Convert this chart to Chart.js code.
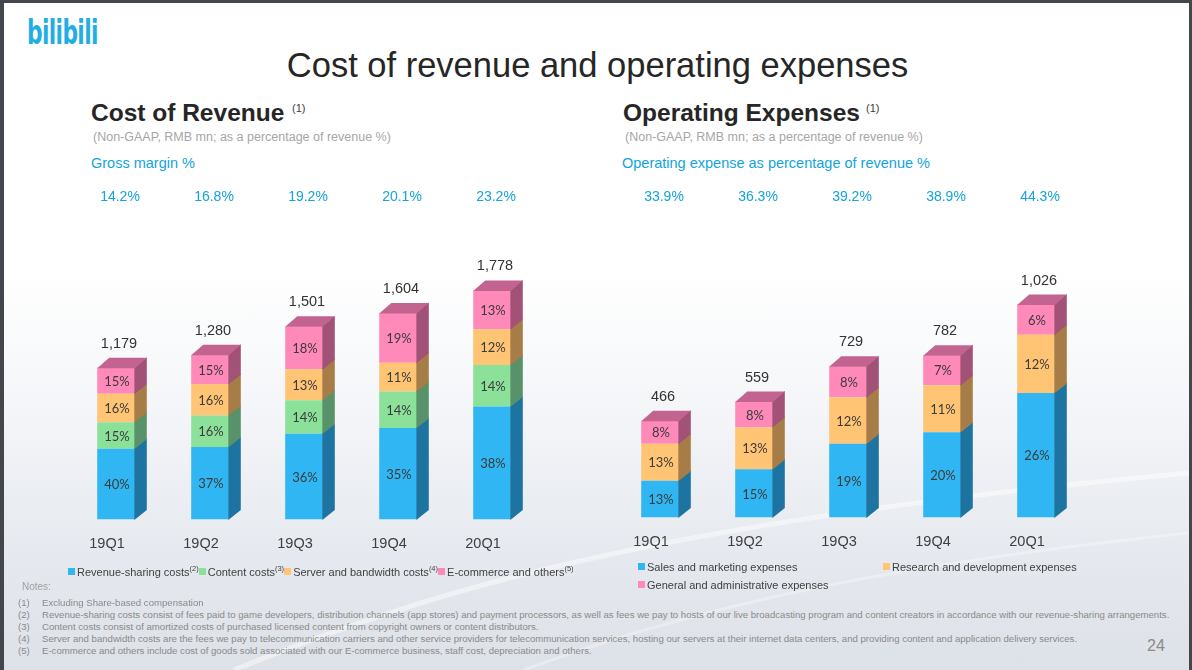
<!DOCTYPE html>
<html>
<head>
<meta charset="utf-8">
<script src="https://cdn.jsdelivr.net/npm/chart.js@4.4.1/dist/chart.umd.min.js"></script>
<style>
html, body { margin: 0; padding: 0; }
body { width: 1192px; height: 670px; background: #43464b; position: relative; overflow: hidden; font-family: "Liberation Sans", Arial, sans-serif; }
#bg { position: absolute; left: 4px; top: 3px; width: 1185px; height: 667px; overflow: hidden;
  background: linear-gradient(to bottom, #ffffff 0%, #ffffff 40%, #f3f5f8 62%, #e6e9ef 82%, #dde1e8 100%); }
#bg svg { position: absolute; left: 0; top: 0; }
.t { position: absolute; white-space: nowrap; line-height: 1; }
.box { position: absolute; }
.legend { position: absolute; font-size: 11px; color: #404040; white-space: nowrap; line-height: 1; }
.legend .sw { display: inline-block; width: 7px; height: 7px; margin-right: 2px; vertical-align: 1px; }
.legend sup { font-size: 7.5px; vertical-align: 5px; margin-right: 0; }
.notes div { position: absolute; left: 18px; font-size: 9.6px; color: #8a8a8a; white-space: nowrap; line-height: 1; }
.notes span { display: inline-block; width: 24px; }
</style>
</head>
<body>
<div id="bg">
  <svg width="1185" height="667">
    <path d="M230,667 C420,590 640,520 1185,470" stroke="#ffffff" stroke-opacity="0.45" stroke-width="5" fill="none"/>
    <path d="M520,667 C700,600 900,560 1185,530" stroke="#ffffff" stroke-opacity="0.3" stroke-width="3" fill="none"/>
  </svg>
</div>

<div class="t" style="left:27px;top:15px;font-family:'DejaVu Sans';font-weight:bold;font-size:34px;color:#23ade5;transform:scaleX(0.64);transform-origin:left;letter-spacing:-1px;">bilibili</div>
<div class="t" style="left:0;width:1195px;text-align:center;top:48px;font-size:34.5px;color:#262626;">Cost of revenue and operating expenses</div>

<div class="t" style="left:91px;top:101px;font-size:24.5px;font-weight:bold;color:#262626;">Cost of Revenue</div>
<div class="t" style="left:292px;top:103px;font-size:11px;color:#404040;">(1)</div>
<div class="t" style="left:93px;top:131px;font-size:12.5px;color:#a6a6a6;">(Non-GAAP, RMB mn; as a percentage of revenue %)</div>
<div class="t" style="left:91px;top:156px;font-size:14.5px;color:#13a3de;">Gross margin %</div>

<div class="t" style="left:623px;top:101px;font-size:24.5px;font-weight:bold;color:#262626;">Operating Expenses</div>
<div class="t" style="left:866px;top:103px;font-size:11px;color:#404040;">(1)</div>
<div class="t" style="left:625px;top:131px;font-size:12.5px;color:#a6a6a6;">(Non-GAAP, RMB mn; as a percentage of revenue %)</div>
<div class="t" style="left:622px;top:156px;font-size:14.5px;color:#13a3de;">Operating expense as percentage of revenue %</div>

<div class="box" style="left:69px;top:180px;width:470px;height:389px;"><canvas id="costChart"></canvas></div>
<div class="box" style="left:613px;top:180px;width:470px;height:387px;"><canvas id="opexChart"></canvas></div>

<div class="legend" id="costLegend" style="left:68px;top:565px;"></div>
<div class="legend" id="opexLegend1" style="left:638px;top:562px;"></div>
<div class="legend" id="opexLegend2" style="left:883px;top:562px;"></div>
<div class="legend" id="opexLegend3" style="left:638px;top:580px;"></div>

<div class="t" style="left:22px;top:582px;font-size:10px;color:#a0a0a0;">Notes:</div>
<div class="notes">
  <div style="top:598px;"><span>(1)</span>Excluding Share-based compensation</div>
  <div style="top:610px;"><span>(2)</span>Revenue-sharing costs consist of fees paid to game developers, distribution channels (app stores) and payment processors, as well as fees we pay to hosts of our live broadcasting program and content creators in accordance with our revenue-sharing arrangements.</div>
  <div style="top:622px;"><span>(3)</span>Content costs consist of amortized costs of purchased licensed content from copyright owners or content distributors.</div>
  <div style="top:634px;"><span>(4)</span>Server and bandwidth costs are the fees we pay to telecommunication carriers and other service providers for telecommunication services, hosting our servers at their internet data centers, and providing content and application delivery services.</div>
  <div style="top:646px;"><span>(5)</span>E-commerce and others include cost of goods sold associated with our E-commerce business, staff cost, depreciation and others.</div>
</div>
<div class="t" style="left:1147px;top:638px;font-size:16px;color:#8a8a8a;">24</div>

<script>
const quarters = ['19Q1', '19Q2', '19Q3', '19Q4', '20Q1'];

// Cost of revenue (RMB mn)
const revenueSharing = [550, 564, 667, 710, 877];
const contentCosts = [206, 244, 259, 284, 323];
const serverCosts = [220, 244, 241, 223, 277];
const ecommerce = [203, 228, 334, 387, 301];
const costTotals = [1179, 1280, 1501, 1604, 1778];
const revenueSharingPct = [40, 37, 36, 35, 38];
const contentPct = [15, 16, 14, 14, 14];
const serverPct = [16, 16, 13, 11, 12];
const ecommercePct = [15, 15, 18, 19, 13];
const grossMargin = ['14.2%', '16.8%', '19.2%', '20.1%', '23.2%'];

// Operating expenses (RMB mn)
const salesMarketing = [178, 233, 355, 411, 600];
const researchDev = [178, 202, 224, 226, 280];
const generalAdmin = [110, 124, 150, 145, 146];
const opexTotals = [466, 559, 729, 782, 1026];
const salesPct = [13, 15, 19, 20, 26];
const researchPct = [13, 13, 12, 11, 12];
const adminPct = [8, 8, 8, 7, 6];
const opexRatio = ['33.9%', '36.3%', '39.2%', '38.9%', '44.3%'];

const BLUE = { front: '#30b6f3', side: '#1e74a0' };
const GREEN = { front: '#8be09a', side: '#57926a' };
const ORANGE = { front: '#ffc474', side: '#a67d46' };
const PINK = { front: '#ff89b9', side: '#a35277', top: '#c2648f' };

// draws the side / top faces, the % labels, totals and the ratio row
const cubePlugin = {
    id: 'cube',
    afterDatasetsDraw(chart) {
        const ctx = chart.ctx;
        const dx = 12, dy = 10;
        const sets = chart.data.datasets;
        const last = sets.length - 1;
        const tops = [];
        ctx.save();
        sets.forEach((ds, di) => {
            const meta = chart.getDatasetMeta(di);
            meta.data.forEach((bar, i) => {
                const p = bar.getProps(['x', 'y', 'base', 'width'], true);
                const l = p.x - p.width / 2, r = p.x + p.width / 2;
                const top = Math.min(p.y, p.base), bot = Math.max(p.y, p.base);
                ctx.fillStyle = ds.side;
                ctx.beginPath();
                ctx.moveTo(r - 0.5, bot + 0.5);
                ctx.lineTo(r + dx, bot - dy + 0.5);
                ctx.lineTo(r + dx, top - dy - 0.5);
                ctx.lineTo(r - 0.5, top - 0.5);
                ctx.closePath();
                ctx.fill();
                if (di === last) {
                    ctx.fillStyle = ds.top;
                    ctx.beginPath();
                    ctx.moveTo(l, top + 0.5);
                    ctx.lineTo(l + dx, top - dy);
                    ctx.lineTo(r + dx, top - dy);
                    ctx.lineTo(r, top + 0.5);
                    ctx.closePath();
                    ctx.fill();
                    tops[i] = { x: p.x, top: top };
                }
                ctx.fillStyle = '#3b3b3b';
                ctx.font = '13px Lato';
                ctx.textAlign = 'center';
                ctx.textBaseline = 'middle';
                ctx.fillText(ds.pct[i] + '%', p.x + 1, (top + bot) / 2 + 1);
            });
        });
        const o = chart.options.plugins.cube;
        ctx.fillStyle = '#333333';
        ctx.font = '14.5px "Liberation Sans"';
        tops.forEach((t, i) => {
            ctx.fillText(o.totals[i].toLocaleString('en-US'), t.x + 3, t.top - 24);
        });
        ctx.fillStyle = '#13a3de';
        ctx.font = '14px "Liberation Sans"';
        tops.forEach((t, i) => {
            ctx.fillText(o.ratios[i], t.x + 4, 17);
        });
        ctx.restore();
    }
};

function makeChart(id, datasets, totals, ratios, maxY, padTop) {
    return new Chart(document.getElementById(id), {
        type: 'bar',
        data: { labels: quarters, datasets: datasets },
        options: {
            responsive: true,
            maintainAspectRatio: false,
            animation: false,
            events: [],
            layout: { padding: { top: padTop, left: 0, right: 0, bottom: 0 } },
            datasets: { bar: { barPercentage: 0.4, categoryPercentage: 1, borderWidth: 0 } },
            plugins: {
                legend: { display: false },
                tooltip: { enabled: false },
                cube: { totals: totals, ratios: ratios }
            },
            scales: {
                x: {
                    stacked: true,
                    grid: { display: false, drawTicks: false },
                    border: { display: false },
                    ticks: {
                        color: '#404040',
                        font: { family: 'Liberation Sans', size: 14.5 },
                        padding: 16,
                        labelOffset: -9
                    }
                },
                y: { stacked: true, display: false, min: 0, max: maxY }
            }
        },
        plugins: [cubePlugin]
    });
}

function ds(label, values, pct, col) {
    return { label: label, data: values, pct: pct, backgroundColor: col.front, side: col.side, top: col.top };
}

makeChart('costChart', [
    ds('Revenue-sharing costs', revenueSharing, revenueSharingPct, BLUE),
    ds('Content costs', contentCosts, contentPct, GREEN),
    ds('Server and bandwidth costs', serverCosts, serverPct, ORANGE),
    ds('E-commerce and others', ecommerce, ecommercePct, PINK)
], costTotals, grossMargin, 2100, 69);

makeChart('opexChart', [
    ds('Sales and marketing expenses', salesMarketing, salesPct, BLUE),
    ds('Research and development expenses', researchDev, researchPct, ORANGE),
    ds('General and administrative expenses', generalAdmin, adminPct, PINK)
], opexTotals, opexRatio, 1250, 78);

// HTML legends (superscript note markers)
const costLegendItems = [
    ['Revenue-sharing costs', '(2)', BLUE.front],
    ['Content costs', '(3)', GREEN.front],
    ['Server and bandwidth costs', '(4)', ORANGE.front],
    ['E-commerce and others', '(5)', PINK.front]
];
document.getElementById('costLegend').innerHTML = costLegendItems.map(it =>
    `<span class="sw" style="background:${it[2]}"></span>${it[0]}<sup>${it[1]}</sup>`).join('');

const opexLegendItems = [
    ['opexLegend1', 'Sales and marketing expenses', BLUE.front],
    ['opexLegend2', 'Research and development expenses', ORANGE.front],
    ['opexLegend3', 'General and administrative expenses', PINK.front]
];
opexLegendItems.forEach(it => {
    document.getElementById(it[0]).innerHTML = `<span class="sw" style="background:${it[2]}"></span>${it[1]}`;
});
</script>
</body>
</html>
